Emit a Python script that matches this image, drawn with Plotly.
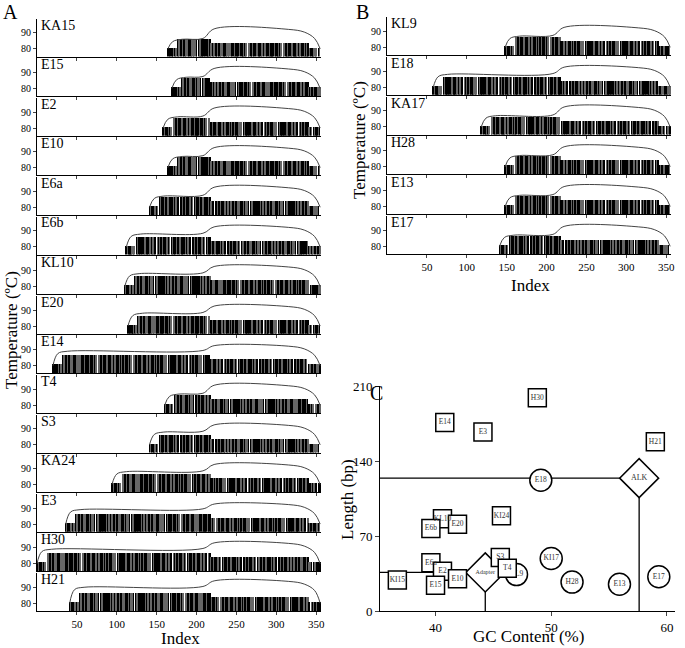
import plotly.graph_objects as go

# panel A / B: name, start index, first plateau temp, second plateau temp, end of tall-bar region
A_names = ["KA15", "E15", "E2", "E10", "E6a", "E6b", "KL10", "E20", "E14", "T4", "S3", "KA24", "E3", "H30", "H21"]
A_start = [164, 169, 158, 164, 141, 112, 110, 114, 20, 160, 141, 94, 36, 0, 41]
A_p1 = [86, 87, 87, 87, 87, 88, 88, 88, 89, 87, 88, 88, 89, 89, 90]
A_p2 = [92.5, 92.5, 92.5, 92.5, 92.5, 92.5, 92.5, 92.5, 92.5, 92.5, 92.5, 92.5, 92.5, 93, 94]
A_step = [218, 218, 218, 218, 218, 218, 218, 218, 218, 218, 218, 218, 218, 218, 218]

B_names = ["KL9", "E18", "KA17", "H28", "E13", "E17"]
B_start = [148, 58, 118, 148, 148, 141]
B_p1 = [87, 88, 87, 87, 87, 87]
B_p2 = [92.5, 92.5, 92.5, 92.5, 92.5, 92.5]
B_step = [218, 218, 218, 218, 218, 218]

# barcode shading pattern (K black, G gray, W gap)
PATTERN = list("KWGKWKKGWKGWWKGWKKWGKWKGWGKKWKGWKGWGKWWKGKGK")

# panel C
sq_x = [40.8, 44.1, 48.8, 59.0, 40.6, 41.9, 39.6, 45.7, 45.6, 46.2, 39.6, 40.6, 41.9, 40.0, 36.7]
sq_y = [176, 167, 199, 158, 86, 81, 77, 89, 50, 40, 45, 37, 30, 24, 29]
sq_t = ["E14", "E3", "H30", "H21", "KL10", "E20", "E6b", "KI24", "S3", "T4", "E6a", "E2", "E10", "E15", "KI15"]
ci_x = [49.1, 50.0, 47.0, 51.8, 55.9, 59.3]
ci_y = [122, 49, 34, 27, 25, 32]
ci_t = ["E18", "KI17", "KL9", "H28", "E13", "E17"]
di_x = [57.6, 44.3]
di_y = [124, 36]
di_t = ["ALK", "Adapter"]

W, H = 685, 648
FONT = "Liberation Serif"
fig = go.Figure()
layout = {}
ann = []
n_ax = [0]


def px_x(p):
    return p / W


def px_y(p):
    return 1 - p / H


def panel(name, s, p1, p2, step, x0, x1, bottom, last):
    n_ax[0] += 1
    k = n_ax[0]
    xa, ya = ("x%d" % k, "y%d" % k)
    xs, ys = [], []
    cols = []
    j = 0
    for i in range(s, 356):
        c = PATTERN[j % len(PATTERN)]
        j += 1
        if c == "W":
            continue
        if i < s + 12 or i > 340:
            h = 81
        elif i < step:
            h = 86.7
        else:
            h = 84
        xs.append(i)
        ys.append(h - 75.2)
        cols.append("black" if c == "K" else "#666")
    fig.add_trace(go.Bar(x=xs, y=ys, base=75.2, width=0.9, marker=dict(color=cols, line_width=0),
                         xaxis=xa, yaxis=ya, showlegend=False))
    cx = [s, s + 6, s + 18, step - 10, step + 4, 315, 335, 348, 355]
    cy = [80, p1 - 1.5, p1, p1 + 0.5, p2, p2 - 0.3, p2 - 2, p2 - 6, 80]
    fig.add_trace(go.Scatter(x=cx, y=cy, mode="lines", line=dict(color="#444", width=1, shape="spline"),
                             xaxis=xa, yaxis=ya, showlegend=False))
    top = bottom - 38
    layout["xaxis%d" % k] = dict(domain=[px_x(x0), px_x(x1)], range=[0, 356], anchor=ya,
                                 showgrid=False, zeroline=False, showline=True, linecolor="black",
                                 tickvals=[50, 100, 150, 200, 250, 300, 350], ticks="outside", ticklen=3,
                                 showticklabels=last, tickfont=dict(size=11, family=FONT, color="black"))
    layout["yaxis%d" % k] = dict(domain=[px_y(bottom), px_y(top)], range=[75.2, 99], anchor=xa,
                                 showgrid=False, zeroline=False, showline=True, linecolor="black",
                                 tickvals=[80, 90], ticks="outside", ticklen=3,
                                 tickfont=dict(size=10, family=FONT, color="black"))
    ann.append(dict(text=name, x=px_x(x0 + 2), y=px_y(top - 3), xref="paper", yref="paper",
                    xanchor="left", yanchor="top", showarrow=False, font=dict(size=14, family=FONT)))


for i, n in enumerate(A_names):
    panel(n, A_start[i], A_p1[i], A_p2[i], A_step[i], 37, 321, 56.5 + 39.6 * i, i == len(A_names) - 1)
for i, n in enumerate(B_names):
    panel(n, B_start[i], B_p1[i], B_p2[i], B_step[i], 387, 671, 55 + 39.8 * i, i == len(B_names) - 1)

# panel C
n_ax[0] += 1
k = n_ax[0]
xa, ya = "x%d" % k, "y%d" % k
line = dict(color="black", width=1.3)
fig.add_trace(go.Scatter(x=[35, di_x[0], di_x[0]], y=[di_y[0], di_y[0], 0], mode="lines", line=line,
                         xaxis=xa, yaxis=ya, showlegend=False))
fig.add_trace(go.Scatter(x=[35, di_x[1], di_x[1]], y=[di_y[1], di_y[1], 0], mode="lines", line=line,
                         xaxis=xa, yaxis=ya, showlegend=False))
mk = dict(color="white", line=dict(color="black", width=1.5))
tf = dict(size=7.5, family=FONT, color="#333")
fig.add_trace(go.Scatter(x=ci_x, y=ci_y, text=ci_t, mode="markers+text", textfont=tf,
                         marker=dict(symbol="circle", size=22, **mk), xaxis=xa, yaxis=ya, showlegend=False))
fig.add_trace(go.Scatter(x=di_x, y=di_y, text=di_t, mode="markers+text",
                         textfont=dict(size=[8, 6], family=FONT, color="#333"),
                         marker=dict(symbol="diamond", size=30, **mk), xaxis=xa, yaxis=ya, showlegend=False))
fig.add_trace(go.Scatter(x=sq_x, y=sq_y, text=sq_t, mode="markers+text", textfont=tf,
                         marker=dict(symbol="square", size=18, **mk), xaxis=xa, yaxis=ya, showlegend=False))
layout["xaxis%d" % k] = dict(domain=[px_x(380), px_x(675)], range=[35.2, 60.7], anchor=ya,
                             showgrid=False, zeroline=False, showline=True, linecolor="black",
                             tickvals=[40, 50, 60], ticks="outside", ticklen=4,
                             tickfont=dict(size=13, family=FONT, color="black"))
layout["yaxis%d" % k] = dict(domain=[px_y(611), px_y(386)], range=[0, 210], anchor=xa,
                             showgrid=False, zeroline=False, showline=True, linecolor="black",
                             tickvals=[0, 70, 140, 210], ticks="outside", ticklen=4,
                             tickfont=dict(size=13, family=FONT, color="black"))

for t, x, y in [("A", 10, 12), ("B", 362, 12), ("C", 376, 393)]:
    ann.append(dict(text=t, x=px_x(x), y=px_y(y), xref="paper", yref="paper", showarrow=False,
                    xanchor="center", yanchor="middle", font=dict(size=20, family=FONT)))
rot = [("Temperature (ºC)", 11, 330, -90), ("Index", 180, 638, 0), ("Temperature (ºC)", 360, 140, -90),
       ("Index", 530, 285, 0), ("Length (bp)", 347, 500, -90), ("GC Content (%)", 528, 636, 0)]
for t, x, y, a in rot:
    ann.append(dict(text=t, x=px_x(x), y=px_y(y), xref="paper", yref="paper", textangle=a,
                    xanchor="center", yanchor="middle", showarrow=False, font=dict(size=17, family=FONT)))

fig.update_layout(width=W, height=H, margin=dict(l=0, r=0, t=0, b=0, autoexpand=False), plot_bgcolor="white",
                  paper_bgcolor="white", bargap=0, annotations=ann, font=dict(family=FONT, color="black"),
                  **layout)
fig.write_html("out.html", config={"displayModeBar": False},
               post_script="document.body.style.margin='0';")
